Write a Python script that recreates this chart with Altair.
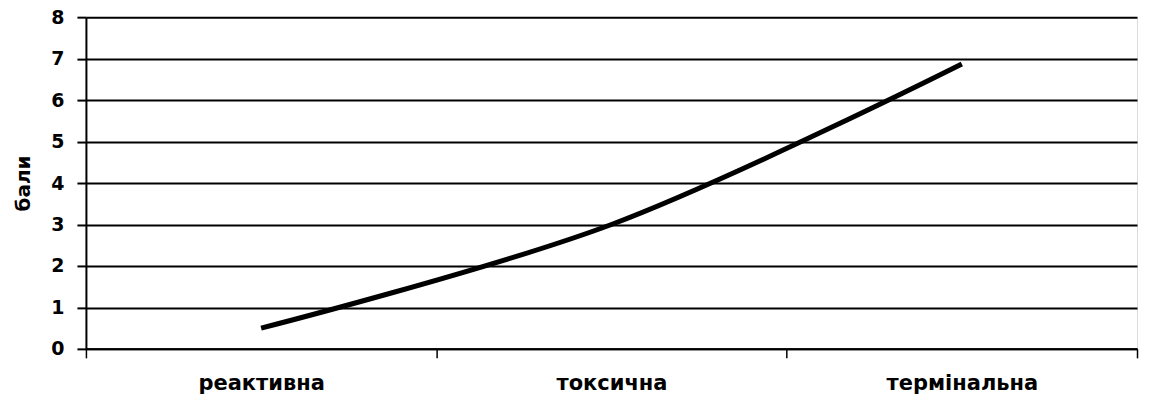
import altair as alt
import pandas as pd

# Stage of the process and its score
stages = ["реактивна", "токсична", "термінальна"]
scores = [0.5, 3.0, 6.87]
stage_pos = [0.5, 1.5, 2.5]

df = pd.DataFrame({"stage": stages, "score": scores, "pos": stage_pos})

label_map = "{'0.5': 'реактивна', '1.5': 'токсична', '2.5': 'термінальна'}"

font = "DejaVu Sans"

line = alt.Chart(df).mark_line(
    color="black", strokeWidth=5, interpolate="catmull-rom", strokeCap="butt"
).encode(
    x=alt.X(
        "pos:Q",
        scale=alt.Scale(domain=[0, 3], nice=False, zero=False),
        axis=alt.Axis(
            values=[0, 0.5, 1, 1.5, 2, 2.5, 3],
            labelExpr=f"{label_map}[toString(datum.value)] || ''",
            title=None,
            grid=False,
            tickSize=9,
            tickWidth=1.5,
            tickColor="black",
            tickOpacity={"condition": {"test": "datum.value % 1 != 0", "value": 0}, "value": 1},
            domainColor="black",
            domainWidth=2,
            labelFont=font,
            labelFontSize=21,
            labelFontWeight="bold",
            labelColor="black",
            labelPadding=15,
            labelFlush=False,
            labelOverlap=False,
        ),
    ),
    y=alt.Y(
        "score:Q",
        scale=alt.Scale(domain=[0, 8], nice=False),
        axis=alt.Axis(
            values=list(range(9)),
            title="бали",
            titleFont=font,
            titleFontSize=20,
            titleFontWeight="bold",
            titleColor="black",
            titlePadding=17,
            grid=True,
            gridColor="black",
            gridWidth=2,
            gridOpacity=1,
            tickSize=9,
            tickWidth=2,
            tickColor="black",
            domainColor="black",
            domainWidth=2,
            labelFont=font,
            labelFontSize=19,
            labelFontWeight="bold",
            labelColor="black",
            labelPadding=13,
        ),
    ),
)

chart = line.properties(
    width=1052,
    height=332,
    padding={"left": 13, "top": 8, "right": 11, "bottom": 0},
).configure_view(stroke=None).configure(background="white")

chart.save("out.html", embed_options={"renderer": "svg", "actions": False})
